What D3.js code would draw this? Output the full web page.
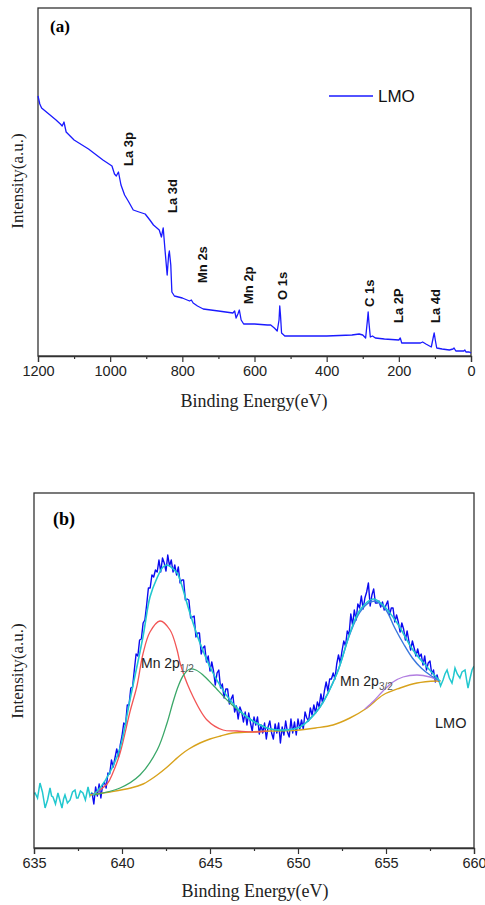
<!DOCTYPE html>
<html>
<head>
<meta charset="utf-8">
<script src="https://cdn.jsdelivr.net/npm/d3@7"></script>
<style>
  body { margin: 0; background: #fff; }
  svg { display: block; }
</style>
</head>
<body>
<div id="chart"></div>
<script>
// ---------- data, panel (a): XPS survey ----------
var surveyEnergy = [1200,1195,1190,1170,1150,1138,1133,1128,1122,1100,1060,1020,995,988,983,977,970,960,950,936,920,903,890,880,864,858,853,848,842,838,836,832,829,822,800,780,775,770,758,742,700,660,655,651,646,642,637,630,600,564,555,545,537,532,530,528,525,516,480,400,330,310,300,292,287,285,283,279,273,265,240,200,196,192,170,140,134,125,110,105,102,99,95,80,60,50,47,42,20,17,14,5,0];
var surveyCounts = [260,252,248,242,236,232,230,234,224,216,207,196,190,182,180,184,171,161,155,146,144,142,136,131,126,119,128,106,81,101,105,91,64,60,58,55,56,53,50,47,45,43,45,38,42,46,36,32,32,31,31,28,25,36,50,41,23,20,20,20,21,22,21,18,36,44,34,19,20,18,17,16,18,13,13,13,14,12,9,18,23,16,8,7,6,7,8,5,5,6,4,4,3];

var peakNames = ["La 3p","La 3d","Mn 2s","Mn 2p","O 1s","C 1s","La 2P","La 4d"];
var peakEnergy = [950, 828, 744, 617, 522, 281, 200, 97];
var peakLabelLevel = [190, 143, 73, 52, 56, 49, 33, 33];

var surveyTicks = [1200,1000,800,600,400,200,0];

// ---------- data, panel (b): Mn 2p region ----------
// raw spectrum, 638.3 eV to 658.0 eV in 0.1 eV steps
var rawStart = 638.3, rawStep = 0.1;
var rawCounts = [
  55,44,61,52,64,50,63,
  66,60,75,74,88,81,90,99,91,103,
  112,125,123,143,143,160,161,178,194,192,
  208,209,225,228,243,260,260,273,271,278,
  276,288,276,290,285,277,293,282,288,276,
  283,273,281,265,268,268,248,249,248,230,
  231,232,211,215,215,194,200,202,186,192,
  177,186,177,163,175,178,160,164,150,159,
  159,144,149,153,136,142,129,141,136,126,
  136,123,135,125,117,131,123,131,114,123,
  115,125,109,121,127,115,109,124,115,125,
  105,121,113,127,116,111,129,115,126,113,
  129,119,128,119,136,130,127,140,133,143,
  135,146,141,154,145,157,166,157,169,169,
  175,169,184,193,185,197,207,202,217,213,
  234,223,238,228,244,240,252,239,250,256,
  265,242,253,259,245,245,247,241,246,238,
  243,247,233,240,240,226,233,226,216,225,
  219,208,217,207,198,207,200,192,199,191,
  194,183,192,178,185,187,174,178,166,173,
  166
];
// data outside the fitted window
var edgeLeftE = [635.0,635.06,635.2,635.34,635.48,635.63,635.77,635.91,636.0,636.08,636.22,636.36,636.48,636.59,636.68,636.76,636.9,637.05,637.19,637.33,637.42,637.5,637.64,637.78,637.92,638.07,638.18,638.3];
var edgeLeftI = [54,55,50,65,56,40,48,60,52,51,44,55,47,40,49,53,45,48,56,58,50,50,57,55,48,61,52,56];
var edgeRightE = [658.0,658.1,658.24,658.35,658.47,658.6,658.75,658.84,658.92,659.05,659.2,659.32,659.49,659.58,659.66,659.78,659.89,660.0];
var edgeRightI = [168,162,168,174,178,170,165,172,180,174,170,176,178,168,160,170,178,182];

var fitE = [638.35,638.75,639.32,639.89,640.45,641.19,641.59,641.99,642.33,642.56,643.13,643.3,643.86,644.43,645.17,646.14,647.1,648.24,648.98,650.11,651.25,652.22,652.95,653.52,654.26,654.83,655.63,656.53,657.33,657.9,658.07];
var fitI = [53,60,76,100,148,211,251,270,281,283,275,268,235,205,175,148,131,120,118,121,141,175,215,238,249,243,225,198,181,170,167];

var bgE = [638.18,639.32,640.5,641.2,641.59,642.0,642.5,643.0,643.4,643.8,644.43,645.0,645.6,646.3,647.27,648.5,650.11,651.0,651.99,652.95,653.92,654.83,655.8,656.76,657.9,658.1];
var bgI = [53,56,60,64,68,73,80,88,94,99,105,109,112,115,116,117,118,120,123,130,140,153,160,165,167,167];

var redE = [638.35,639.15,639.5,639.89,640.45,640.85,641.19,641.59,642.16,642.73,643.13,643.3,643.86,644.83,645.74,646.53,647.5,648.2];
var redI = [54,64,76,95,136,162,194,216,227,218,198,185,158,128,118,117,116,117];

var greenE = [638.35,639.89,641.02,642.0,642.56,642.9,643.2,643.5,643.86,644.2,644.6,645.17,646.14,647.1,648.24,649.26];
var greenI = [53,60,73,98,125,146,162,173,179,178,173,163,145,131,120,117];

var purpleE = [653.8,654.3,654.83,655.4,655.97,656.76,657.5,658.07];
var purpleI = [139,147,157,166,171,173,171,167];

var p32E = [650.5,651.25,652.22,652.95,653.52,654.1,654.5,655.0,655.5,656.0,656.5,657.0,657.5,658.07];
var p32I = [126,141,175,214,236,246,246,238,220,204,190,180,173,167];

var mnTicks = [635,640,645,650,655,660];

// ---------- drawing ----------
var W = 485, H = 905;
var svg = d3.select("#chart").append("svg")
    .attr("width", W).attr("height", H);

var serif = "'Liberation Serif', 'Times New Roman', serif";
var sans = "'Liberation Sans', Arial, sans-serif";

function zipXY(xs, ys) { return xs.map(function(d, i) { return [d, ys[i]]; }); }

function frame(g, x, y, ticks, minorTicks) {
  var r = x.range(), ry = y.range();
  var ax = g.append("g")
      .attr("transform", "translate(0," + ry[0] + ")")
      .call(d3.axisBottom(x).tickValues(ticks).tickSize(6).tickPadding(4).tickFormat(d3.format("d")));
  ax.select(".domain").attr("stroke", "#333").attr("stroke-width", 1.3);
  ax.selectAll(".tick line").attr("stroke", "#333").attr("stroke-width", 1.2);
  ax.selectAll(".tick text")
      .style("font-family", sans).style("font-size", "14.5px").attr("fill", "#222");
  g.append("g")
      .attr("transform", "translate(0," + ry[0] + ")")
      .call(d3.axisBottom(x).tickValues(minorTicks).tickSize(3).tickFormat(""))
      .call(function(s) { s.select(".domain").remove(); })
      .selectAll(".tick line").attr("stroke", "#333").attr("stroke-width", 1.2);
  g.append("rect")
      .attr("x", Math.min(r[0], r[1])).attr("y", ry[1])
      .attr("width", Math.abs(r[1] - r[0])).attr("height", ry[0] - ry[1])
      .attr("fill", "none").attr("stroke", "#333").attr("stroke-width", 1.3);
}

// ===== panel (a) =====
var ga = svg.append("g");
var xa = d3.scaleLinear().domain([1200, 0]).range([38, 471]);
var ya = d3.scaleLinear().domain([0, 348]).range([356, 8]);

frame(ga, xa, ya, surveyTicks, [1100,900,700,500,300,100]);

ga.append("path")
    .datum(zipXY(surveyEnergy, surveyCounts))
    .attr("fill", "none").attr("stroke", "#1a1aff").attr("stroke-width", 1.3)
    .attr("stroke-linejoin", "round")
    .attr("d", d3.line().x(function(d) { return xa(d[0]); }).y(function(d) { return ya(d[1]); }));

ga.selectAll(".peak")
    .data(peakNames)
    .enter().append("text")
    .attr("class", "peak")
    .attr("transform", function(d, i) { return "translate(" + (xa(peakEnergy[i]) + 4.5) + "," + ya(peakLabelLevel[i]) + ") rotate(-90)"; })
    .style("font-family", sans).style("font-size", "13px").style("font-weight", "bold")
    .attr("fill", "#111")
    .text(function(d) { return d; });

ga.append("line").attr("x1", 329).attr("x2", 373).attr("y1", 96).attr("y2", 96)
    .attr("stroke", "#1a1aff").attr("stroke-width", 1.3);
ga.append("text").attr("x", 378).attr("y", 102)
    .style("font-family", sans).style("font-size", "17px").attr("fill", "#111").text("LMO");

ga.append("text").attr("x", 50).attr("y", 32)
    .style("font-family", serif).style("font-size", "17px").style("font-weight", "bold").text("(a)");

ga.append("text").attr("x", 254).attr("y", 407).attr("text-anchor", "middle")
    .style("font-family", serif).style("font-size", "18px").attr("fill", "#222")
    .text("Binding Energy(eV)");
ga.append("text").attr("transform", "translate(23,181) rotate(-90)").attr("text-anchor", "middle")
    .style("font-family", serif).style("font-size", "17px").attr("fill", "#222")
    .text("Intensity(a.u.)");

// ===== panel (b) =====
var gb = svg.append("g");
var xb = d3.scaleLinear().domain([635, 660]).range([34, 474]);
var yb = d3.scaleLinear().domain([0, 355]).range([848, 493]);

svg.append("clipPath").attr("id", "clipb").append("rect")
    .attr("x", 34).attr("y", 493).attr("width", 440).attr("height", 355);

var lineB = d3.line().x(function(d) { return xb(d[0]); }).y(function(d) { return yb(d[1]); });
var smoothB = d3.line().curve(d3.curveCatmullRom.alpha(0.5)).x(function(d) { return xb(d[0]); }).y(function(d) { return yb(d[1]); });

var plot = gb.append("g").attr("clip-path", "url(#clipb)");

var rawPts = rawCounts.map(function(v, i) { return [rawStart + i * rawStep, v]; });

plot.append("path").datum(zipXY(edgeLeftE, edgeLeftI))
    .attr("fill", "none").attr("stroke", "#22c8cf").attr("stroke-width", 1.5).attr("d", lineB);
plot.append("path").datum(zipXY(edgeRightE, edgeRightI))
    .attr("fill", "none").attr("stroke", "#22c8cf").attr("stroke-width", 1.5).attr("d", lineB);

plot.append("path").datum(rawPts)
    .attr("fill", "none").attr("stroke", "#0a0af0").attr("stroke-width", 1.4)
    .attr("stroke-linejoin", "round").attr("d", lineB);

plot.append("path").datum(zipXY(bgE, bgI))
    .attr("fill", "none").attr("stroke", "#d8a21c").attr("stroke-width", 1.4).attr("d", smoothB);
plot.append("path").datum(zipXY(redE, redI))
    .attr("fill", "none").attr("stroke", "#f25555").attr("stroke-width", 1.3).attr("d", smoothB);
plot.append("path").datum(zipXY(greenE, greenI))
    .attr("fill", "none").attr("stroke", "#3aa768").attr("stroke-width", 1.3).attr("d", smoothB);
plot.append("path").datum(zipXY(purpleE, purpleI))
    .attr("fill", "none").attr("stroke", "#b27ee0").attr("stroke-width", 1.3).attr("d", smoothB);
plot.append("path").datum(zipXY(p32E, p32I))
    .attr("fill", "none").attr("stroke", "#3a78de").attr("stroke-width", 1.4).attr("d", smoothB);
plot.append("path").datum(zipXY(fitE, fitI))
    .attr("fill", "none").attr("stroke", "#22c8cf").attr("stroke-width", 1.6).attr("d", smoothB);

frame(gb, xb, yb, mnTicks, [637.5,642.5,647.5,652.5,657.5]);

function mnLabel(x, y, sub) {
  var t = gb.append("text").attr("x", x).attr("y", y)
      .style("font-family", sans).style("font-size", "14px").attr("fill", "#222");
  t.append("tspan").text("Mn 2p");
  t.append("tspan").attr("dy", 4).style("font-size", "10px").attr("fill", "#555").text(sub);
}
mnLabel(141, 668, "1/2");
mnLabel(340, 686, "3/2");

gb.append("text").attr("x", 435).attr("y", 728)
    .style("font-family", sans).style("font-size", "14.5px").attr("fill", "#222").text("LMO");

gb.append("text").attr("x", 53).attr("y", 525)
    .style("font-family", serif).style("font-size", "18px").style("font-weight", "bold").text("(b)");

gb.append("text").attr("x", 255).attr("y", 897).attr("text-anchor", "middle")
    .style("font-family", serif).style("font-size", "18px").attr("fill", "#222")
    .text("Binding Energy(eV)");
gb.append("text").attr("transform", "translate(23,671) rotate(-90)").attr("text-anchor", "middle")
    .style("font-family", serif).style("font-size", "17px").attr("fill", "#222")
    .text("Intensity(a.u.)");
</script>
</body>
</html>
